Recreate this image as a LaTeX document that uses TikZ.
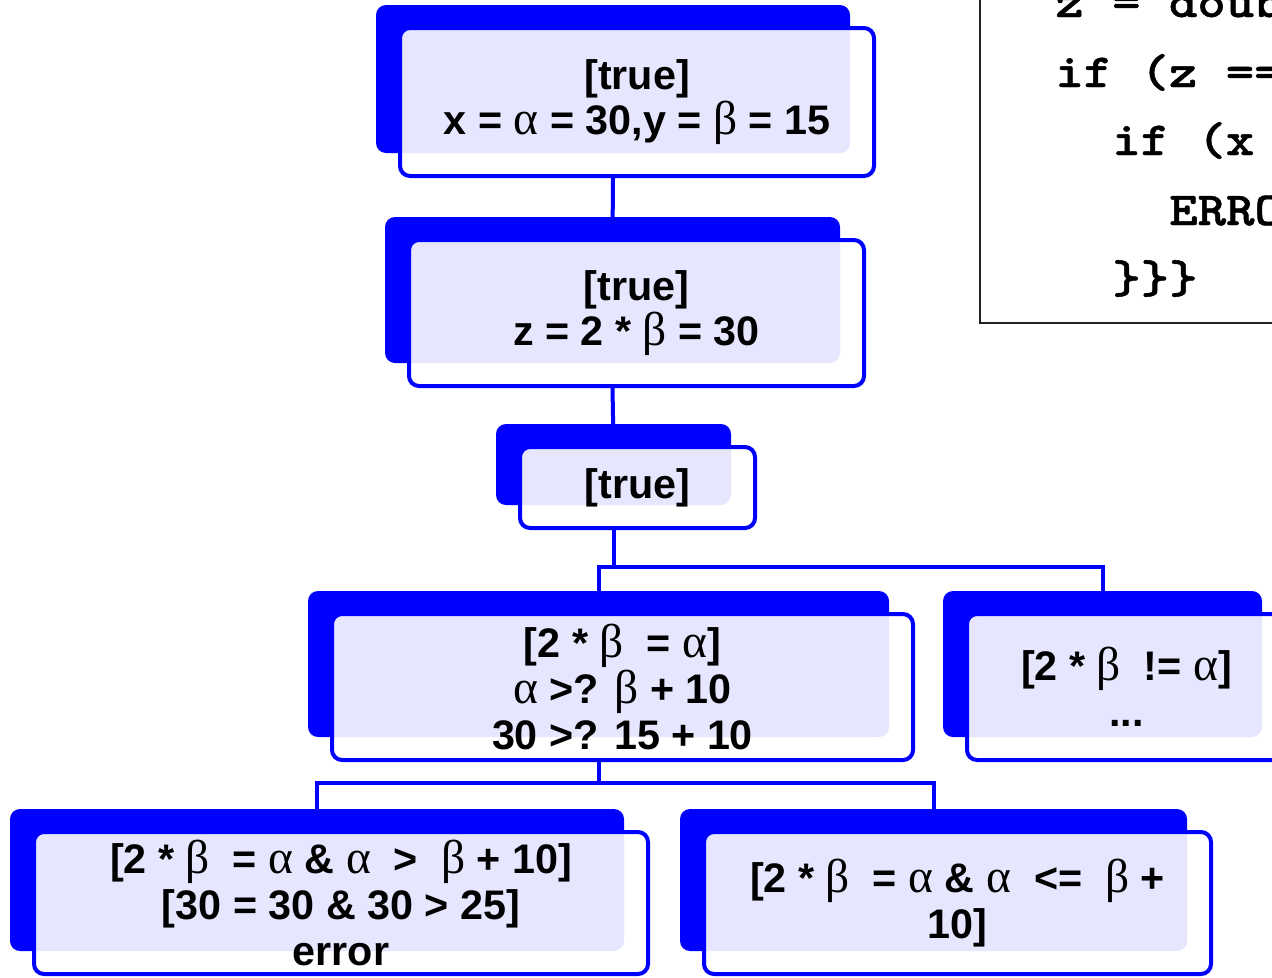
\documentclass[tikz,border=0pt]{standalone}
\usepackage{fontspec}
\setmainfont{Liberation Sans}
\newfontfamily\grkfont{Liberation Serif}[Scale=1.15]
\newfontfamily\codefont{lmmonolt10-bold.otf}[FakeStretch=1.14, FakeBold=1]
\usetikzlibrary{shadows,backgrounds}
\definecolor{pathblue}{HTML}{0000FF}
\definecolor{codegray}{HTML}{222222}
\newcommand{\galpha}{{\grkfont\mdseries α}}
\newcommand{\gbeta}{{\grkfont\mdseries β}}

\tikzset{
  condbox/.style={rectangle, rounded corners=0.2cm, draw=pathblue, line width=0.08cm,
    fill=white, fill opacity=0.9, text opacity=1, align=center, inner sep=0pt,
    font=\fontsize{23.5}{26}\selectfont\bfseries,
    general shadow={fill=pathblue, fill opacity=1, shadow xshift=-0.48cm, shadow yshift=0.46cm}},
  link/.style={pathblue, line width=0.08cm},
  codetext/.style={anchor=base west, inner sep=0pt, font=\fontsize{27}{30}\selectfont\codefont},
}

\begin{document}
\begin{tikzpicture}
  \path[use as bounding box, clip] (0,0) rectangle (25.44,-19.54);

  % source listing, cut at the corner
  \draw[codegray, line width=0.04cm] (19.6,0.5) -- (19.6,-6.46) -- (26,-6.46);
  \node[codetext] (code1) at (21.1,-0.34) {z = doub};
  \node[codetext] (code2) at (21.1,-1.74) {if (z ==};
  \node[codetext] (code3) at (22.24,-3.10) {if (x};
  \node[codetext] (code4) at (23.38,-4.50) {ERRO};
  \node[codetext] (code5) at (22.24,-5.86) {\}\}\}};

  % path conditions
  \node[condbox, minimum width=9.48cm, minimum height=2.96cm] (init) at (12.74,-2.04)
    {[true]\\x = \galpha{} = 30,y = \gbeta{} = 15};
  \node[condbox, minimum width=9.10cm, minimum height=2.92cm] (zset) at (12.73,-6.26)
    {[true]\\z = 2 * \gbeta{} = 30};
  \node[condbox, minimum width=4.70cm, minimum height=1.62cm] (branch) at (12.75,-9.75)
    {[true]};
  \node[condbox, minimum width=11.62cm, minimum height=2.92cm] (eqpath) at (12.45,-13.74)
    {[2 * \gbeta\ \ = \galpha]\\\galpha{} >? \gbeta{} + 10\\30 >? 15 + 10};
  \node[condbox, minimum width=6.38cm, minimum height=2.92cm] (neqpath) at (22.53,-13.74)
    {[2 * \gbeta\ \ != \galpha]\\...};
  \node[condbox, minimum width=12.28cm, minimum height=2.84cm] (errpath) at (6.82,-18.06)
    {[2 * \gbeta\ \ = \galpha{} \& \galpha\ \ >\ \ \gbeta{} + 10]\\{}[30 = 30 \& 30 > 25]\\error};
  \node[condbox, minimum width=10.14cm, minimum height=2.84cm] (okpath) at (19.15,-18.06)
    {[2 * \gbeta\ \ = \galpha{} \& \galpha\ \ <=\ \ \gbeta{} +\\10]};

  % tree edges behind the boxes
  \begin{scope}[on background layer]
    \coordinate (fork1) at (12.27,-11.34);
    \coordinate (fork2) at (11.97,-15.66);
    \draw[link] ([xshift=-0.48cm]init.south) -- ([xshift=-0.48cm]zset.north);
    \draw[link] ([xshift=-0.48cm]zset.south) -- ([xshift=-0.48cm]branch.north);
    \draw[link] ([xshift=-0.48cm]branch.south) -- (fork1);
    \draw[link] ([xshift=-0.48cm]eqpath.north) |- (fork1) -| ([xshift=-0.48cm]neqpath.north);
    \draw[link] ([xshift=-0.48cm]eqpath.south) -- (fork2);
    \draw[link] ([xshift=-0.48cm]errpath.north) |- (fork2) -| ([xshift=-0.48cm]okpath.north);
  \end{scope}
\end{tikzpicture}
\end{document}
